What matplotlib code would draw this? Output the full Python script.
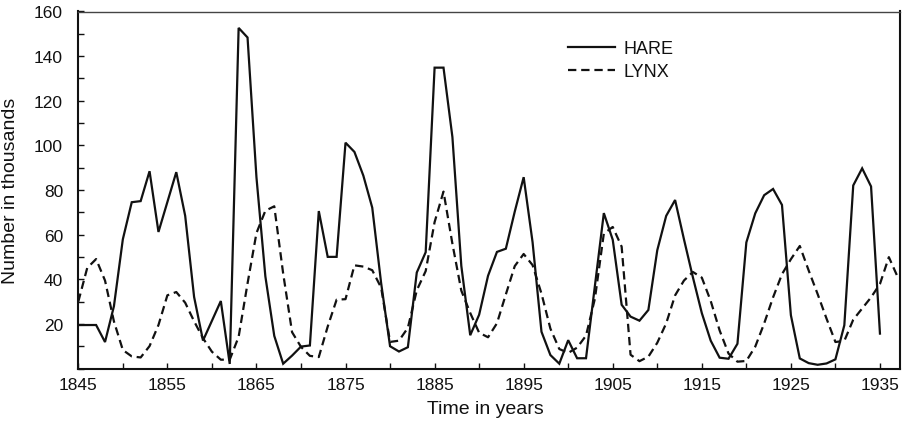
import matplotlib
matplotlib.use("Agg")
import matplotlib.pyplot as plt
from matplotlib.ticker import MultipleLocator

# ---- data ----
hare_start = 1845
hare = [19.58, 19.60, 19.61, 11.99, 28.04, 58.00, 74.60, 75.09, 88.48, 61.28,
        74.67, 88.06, 68.51, 32.19, 12.64, 21.49, 30.35, 2.18, 152.65, 148.36,
        85.81, 41.41, 14.75, 2.28, 5.91, 9.95, 10.44, 70.64, 50.12, 50.13,
        101.25, 97.12, 86.51, 72.17, 38.32, 10.11, 7.74, 9.67, 43.12, 52.21,
        134.85, 134.86, 103.79, 46.10, 15.03, 24.20, 41.65, 52.34, 53.78, 70.40,
        85.81, 56.69, 16.59, 6.16, 2.30, 12.82, 4.72, 4.73, 37.22, 69.72,
        57.78, 28.68, 23.37, 21.54, 26.34, 53.10, 68.48, 75.58, 57.92, 40.97,
        24.95, 12.59, 4.97, 4.50, 11.21, 56.60, 69.63, 77.74, 80.53, 73.38,
        24.00, 4.64, 2.54, 1.80, 2.39, 4.23, 19.52, 82.11, 89.76, 81.66, 15.76]
lynx_start = 1845
lynx = [30.09, 45.15, 49.15, 39.52, 21.23, 8.42, 5.56, 5.08, 10.17, 19.60,
        32.91, 34.38, 29.59, 21.30, 13.69, 7.65, 4.08, 4.09, 14.33, 38.22,
        60.78, 70.77, 72.77, 42.68, 16.39, 9.83, 5.80, 5.26, 18.91, 30.95,
        31.18, 46.34, 45.77, 44.15, 36.33, 12.03, 12.60, 18.34, 35.14, 43.77,
        65.69, 79.35, 56.00, 35.00, 25.00, 16.16, 14.12, 20.38, 33.33, 46.00,
        51.41, 46.43, 33.68, 18.01, 8.86, 7.13, 9.47, 14.86, 31.47, 60.57,
        63.51, 54.70, 6.30, 3.41, 5.44, 11.65, 20.35, 32.88, 39.55, 43.36,
        40.83, 30.36, 17.18, 6.82, 3.19, 3.52, 9.94, 20.30, 31.99, 42.36,
        49.08, 55.00, 44.00, 33.50, 22.50, 12.00, 12.50, 22.00, 27.00, 32.00,
        38.00, 50.00, 41.00]
hare_years = list(range(hare_start, hare_start + len(hare)))
lynx_years = list(range(lynx_start, lynx_start + len(lynx)))

x_ticks = [1845, 1855, 1865, 1875, 1885, 1895, 1905, 1915, 1925, 1935]
y_ticks = [20, 40, 60, 80, 100, 120, 140, 160]

plt.rcParams['lines.scale_dashes'] = False
tick_font = ['Liberation Sans Narrow', 'Liberation Sans', 'DejaVu Sans']
label_font = ['Liberation Sans', 'DejaVu Sans']
ink = '#111111'

W, H = 906, 427
fig = plt.figure(figsize=(W / 100, H / 100), dpi=100)
L, R, T, B = 78.3, 900, 12.5, 369.8
ax = fig.add_axes([L / W, 1 - B / H, (R - L) / W, (B - T) / H])

ax.plot(hare_years, hare, color=ink, lw=1.6, solid_joinstyle='miter', label='HARE')
ax.plot(lynx_years, lynx, color=ink, lw=1.6, dashes=(6, 3.5), label='LYNX')

ax.set_xlim(1845, 1937.25)
ax.set_ylim(0, 160)
ax.set_xticks(x_ticks)
ax.xaxis.set_minor_locator(MultipleLocator(5))
ax.set_yticks(y_ticks)
ax.yaxis.set_minor_locator(MultipleLocator(10))
ax.tick_params(which='both', direction='in', length=4, width=1.0, colors=ink)
ax.tick_params(axis='y', which='major', pad=11)
ax.tick_params(axis='x', which='major', pad=6)
for lab in ax.get_xticklabels() + ax.get_yticklabels():
    lab.set_family(tick_font)
    lab.set_fontsize(12.5)
    lab.set_color(ink)

for side in ['left', 'bottom', 'right']:
    ax.spines[side].set_linewidth(1.5)
    ax.spines[side].set_color(ink)
ax.spines['top'].set_linewidth(1.0)
ax.spines['top'].set_color('#444444')

ax.set_ylabel('Number in thousands', family=label_font, fontsize=14, color=ink)
ax.yaxis.set_label_coords((19 - L) / (R - L), 0.5)
ax.set_xlabel('Time in years', family=label_font, fontsize=14, color=ink)
ax.xaxis.set_label_coords(0.495, (B - 401) / (B - T))

leg = ax.legend(loc='upper left', bbox_to_anchor=(568 / W, 1 - 41 / H),
                bbox_transform=fig.transFigure, frameon=False, borderpad=0,
                borderaxespad=0, handlelength=2.6, handletextpad=0.5,
                labelspacing=0.35, prop={'family': label_font, 'size': 13})
for t in leg.get_texts():
    t.set_color(ink)

fig.savefig('out.png', dpi=100)
